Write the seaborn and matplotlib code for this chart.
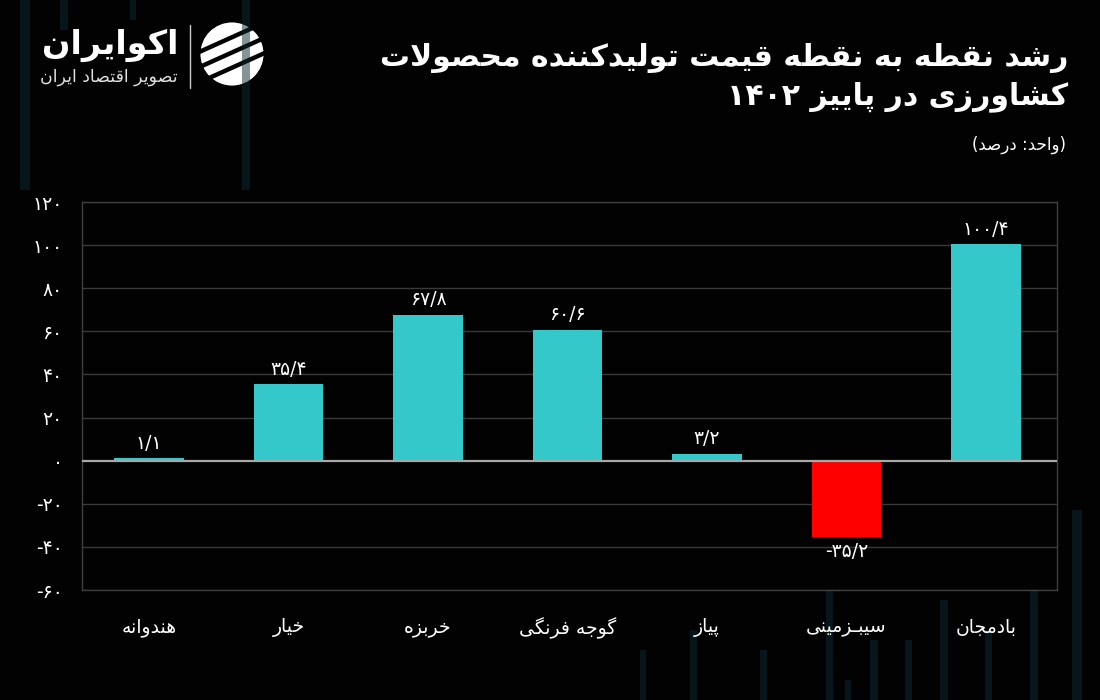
import numpy as np
import pandas as pd
import matplotlib
matplotlib.use("Agg")
import matplotlib.pyplot as plt
import seaborn as sns
from matplotlib.patches import Rectangle, Circle

# ---------------- data ----------------
categories = ["هندوانه", "خیار", "خربزه", "گوجه فرنگی", "پیاز", "سیبـزمینی", "بادمجان"]
values = [1.1, 35.4, 67.8, 60.6, 3.2, -35.2, 100.4]
yticks = [-60, -40, -20, 0, 20, 40, 60, 80, 100, 120]
title_lines = ["رشد نقطه به نقطه قیمت تولیدکننده محصولات", "کشاورزی در پاییز ۱۴۰۲"]
unit_text = "(واحد: درصد)"
brand = "اکوایران"
brand_sub = "تصویر اقتصاد ایران"

POS_COLOR = "#34C8CB"
NEG_COLOR = "#FF0000"

# ---------------- minimal Persian shaping + bidi ----------------
DUAL = {'ب': 0xFE8F, 'ت': 0xFE95, 'ث': 0xFE99, 'ج': 0xFE9D, 'ح': 0xFEA1, 'خ': 0xFEA5,
        'س': 0xFEB1, 'ش': 0xFEB5, 'ص': 0xFEB9, 'ض': 0xFEBD, 'ط': 0xFEC1, 'ظ': 0xFEC5,
        'ع': 0xFEC9, 'غ': 0xFECD, 'ف': 0xFED1, 'ق': 0xFED5, 'ل': 0xFEDD, 'م': 0xFEE1,
        'ن': 0xFEE5, 'ه': 0xFEE9, 'پ': 0xFB56, 'چ': 0xFB7A, 'ک': 0xFB8E, 'گ': 0xFB92,
        'ی': 0xFBFC, 'ي': 0xFEF1}
RIGHT = {'ا': 0xFE8D, 'آ': 0xFE81, 'د': 0xFEA9, 'ذ': 0xFEAB, 'ر': 0xFEAD, 'ز': 0xFEAF,
         'ژ': 0xFB8A, 'و': 0xFEED}
LAM_ALEF = {'ا': (0xFEFB, 0xFEFC), 'آ': (0xFEF5, 0xFEF6)}
TATWEEL = 'ـ'


def _jtype(u):
    if u.startswith('LA'):
        return 'R'
    if u in DUAL:
        return 'D'
    if u in RIGHT:
        return 'R'
    if u == TATWEEL:
        return 'C'
    return 'U'


def shape(s):
    units = []
    i = 0
    while i < len(s):
        c = s[i]
        if c == 'ل' and i + 1 < len(s) and s[i + 1] in LAM_ALEF:
            units.append('LA' + s[i + 1])
            i += 2
        else:
            units.append(c)
            i += 1
    out = []
    for k, u in enumerate(units):
        t = _jtype(u)
        pt = _jtype(units[k - 1]) if k > 0 else 'U'
        nt = _jtype(units[k + 1]) if k + 1 < len(units) else 'U'
        cp = t in 'DRC' and pt in 'DC'
        cn = t in 'DC' and nt in 'DRC'
        if u.startswith('LA'):
            iso, fin = LAM_ALEF[u[2]]
            out.append(chr(fin if cp else iso))
        elif t == 'D':
            b = DUAL[u]
            if cp and cn:
                out.append(chr(b + 3))
            elif cp:
                out.append(chr(b + 1))
            elif cn:
                out.append(chr(b + 2))
            else:
                out.append(chr(b))
        elif t == 'R':
            b = RIGHT[u]
            out.append(chr(b + 1 if cp else b))
        else:
            out.append(u)
    return ''.join(out)


DIGITS = set('0123456789۰۱۲۳۴۵۶۷۸۹٠١٢٣٤٥٦٧٨٩')
MIRROR = {'(': ')', ')': '(', '[': ']', ']': '['}


def bidi(s):
    runs = []
    for idx, ch in enumerate(s):
        is_l = (ch in DIGITS or (ch.isascii() and ch.isalpha()) or
                (ch in './' and 0 < idx < len(s) - 1 and s[idx - 1] in DIGITS and s[idx + 1] in DIGITS))
        if runs and runs[-1][0] == is_l:
            runs[-1][1] += ch
        else:
            runs.append([is_l, ch])
    out = ''
    for is_l, t in reversed(runs):
        if is_l:
            out += t
        else:
            out += ''.join(MIRROR.get(c, c) for c in reversed(t))
    return out


def fa(s):
    return bidi(shape(s))


FA_DIG = str.maketrans('0123456789', '۰۱۲۳۴۵۶۷۸۹')


def fa_num(v, dec=True):
    if dec:
        s = f"{v:.1f}".replace('.', '/')
    else:
        s = f"{v:d}"
    return s.translate(FA_DIG)


# ---------------- style ----------------
sns.set_theme(style="dark")
plt.rcParams['font.family'] = ['DejaVu Sans']
plt.rcParams['figure.facecolor'] = '#020202'
plt.rcParams['axes.facecolor'] = '#020202'
plt.rcParams['savefig.facecolor'] = '#020202'

fig = plt.figure(figsize=(11, 7), dpi=100)

# decorative faint background stripes (figure coords, pixels -> fraction)
deco = [(20, 0, 10, 190), (242, 0, 8, 190), (60, 0, 8, 30), (130, 0, 6, 20),
        (1072, 510, 10, 190), (1030, 560, 8, 140), (985, 630, 7, 70), (940, 600, 8, 100),
        (905, 640, 7, 60), (870, 640, 8, 60), (845, 680, 6, 20), (826, 590, 7, 110),
        (760, 650, 7, 50), (690, 630, 7, 70), (640, 650, 6, 50)]
for (px, py, pw, ph) in deco:
    fig.patches.append(Rectangle((px / 1100, 1 - (py + ph) / 700), pw / 1100, ph / 700,
                                 transform=fig.transFigure, color='#0b2a33', alpha=0.5,
                                 zorder=0, linewidth=0))

ax = fig.add_axes([82 / 1100, 1 - 590 / 700, (1057 - 82) / 1100, (590 - 202) / 700])
ax.set_zorder(2)

df = pd.DataFrame({"cat": [fa(c) for c in categories], "val": values})
colors = [NEG_COLOR if v < 0 else POS_COLOR for v in values]
sns.barplot(data=df, x="cat", y="val", hue="cat", palette=colors, width=0.5,
            saturation=1, legend=False, ax=ax, zorder=3, linewidth=0, edgecolor='none')

ax.set_ylim(-60, 120)
ax.set_xlim(-0.48, 6.51)
ax.set_yticks(yticks)
ax.set_yticklabels([fa_num(t, dec=False) for t in yticks], fontsize=13.5, color='white')
ax.tick_params(axis='x', colors='white', labelsize=13.5, length=0, pad=20)
ax.tick_params(axis='y', colors='white', length=0, pad=14)
ax.set_xlabel("")
ax.set_ylabel("")

for t in yticks:
    if t == 0:
        continue
    ax.axhline(t, color='#3a3a3a', lw=1.0, zorder=1)
ax.axhline(0, color='#a8a8a8', lw=1.6, zorder=4)
ax.grid(False)
for side in ['left', 'right', 'top', 'bottom']:
    ax.spines[side].set_visible(True)
    ax.spines[side].set_color('#3f3f3f')
    ax.spines[side].set_linewidth(1.0)

for i, v in enumerate(values):
    if v >= 0:
        ax.annotate(fa_num(v), (i, v), xytext=(0, 4), textcoords='offset points',
                    ha='center', va='bottom', color='white', fontsize=13.5)
    else:
        ax.annotate(fa_num(v), (i, v), xytext=(0, -4), textcoords='offset points',
                    ha='center', va='top', color='white', fontsize=13.5)

# ---------------- titles ----------------
fig.text(1068 / 1100, 1 - 58 / 700, fa(title_lines[0]), ha='right', va='center',
         fontsize=21.5, fontweight='bold', color='white')
fig.text(1068 / 1100, 1 - 97 / 700, fa(title_lines[1]), ha='right', va='center',
         fontsize=21.5, fontweight='bold', color='white')
fig.text(1066 / 1100, 1 - 145 / 700, fa(unit_text), ha='right', va='center',
         fontsize=12, color='white')

# ---------------- logo ----------------
fig.text(178 / 1100, 1 - 45 / 700, fa(brand), ha='right', va='center',
         fontsize=24, fontweight='bold', color='white')
fig.text(178 / 1100, 1 - 77 / 700, fa(brand_sub), ha='right', va='center',
         fontsize=12.5, color='#e0e0e0')
fig.add_artist(plt.Line2D([190 / 1100, 190 / 1100], [1 - 88 / 700, 1 - 25 / 700],
                          transform=fig.transFigure, color='#cccccc', lw=1))
lax = fig.add_axes([200 / 1100, 1 - 86 / 700, 64 / 1100, 64 / 700])
lax.set_xlim(-1.05, 1.05)
lax.set_ylim(-1.05, 1.05)
lax.set_aspect('equal')
lax.axis('off')
lax.add_patch(Circle((0, 0), 1.0, color='white'))
for off in [-0.45, 0.05, 0.55]:
    xs = np.array([-1.2, 1.2])
    lax.plot(xs, 0.45 * xs + off, color='#020202', lw=3.2, solid_capstyle='butt')
lax.add_patch(Circle((0, 0), 1.0, fill=False, ec='white', lw=1.5))

fig.savefig("out.png", dpi=100)
